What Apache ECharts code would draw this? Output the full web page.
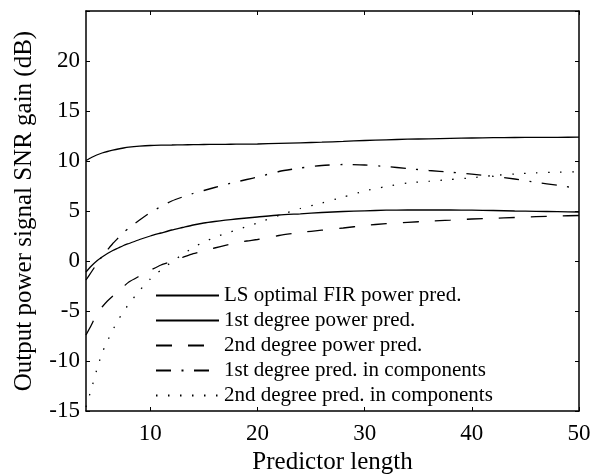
<!DOCTYPE html>
<html>
<head>
<meta charset="utf-8">
<script src="https://cdn.jsdelivr.net/npm/echarts@6/dist/echarts.min.js"></script>
<style>
html, body { margin: 0; padding: 0; background: #fff; }
#chart { width: 601px; height: 474px; }
</style>
</head>
<body>
<div id="chart"></div>
<script>
// predictor lengths sampled along the x axis
const predictorLength = [4, 4.5, 5, 5.5, 6, 6.5, 7, 7.5, 8, 9, 10, 11, 12, 13, 14, 15, 16, 17, 18, 19, 20,
  22, 24, 26, 28, 30, 32, 34, 36, 38, 40, 42, 44, 46, 48, 50]

// SNR gain (dB)
const lsOptimal = [10.05, 10.35, 10.6, 10.8, 10.95, 11.08, 11.2, 11.3, 11.38, 11.48, 11.55, 11.58, 11.6, 11.62, 11.63, 11.65, 11.66, 11.67, 11.68, 11.69, 11.7,
  11.76, 11.82, 11.88, 11.96, 12.05, 12.12, 12.18, 12.22, 12.26, 12.3, 12.33, 12.35, 12.36, 12.37, 12.38]
const firstPower = [-1.1, -0.5, 0, 0.4, 0.75, 1.05, 1.3, 1.55, 1.75, 2.15, 2.5, 2.8, 3.1, 3.35, 3.6, 3.8, 3.95, 4.08, 4.2, 4.3, 4.4,
  4.6, 4.72, 4.85, 4.95, 5.02, 5.08, 5.1, 5.1, 5.1, 5.08, 5.05, 5.0, 4.97, 4.93, 4.9]
const secondPower = [-7.4, -6.4, -5.3, -4.6, -4.0, -3.5, -3.0, -2.55, -2.1, -1.5, -0.93, -0.4, -0.05, 0.35, 0.74, 1.0, 1.3, 1.57, 1.8, 2.0, 2.15,
  2.55, 2.85, 3.08, 3.3, 3.55, 3.74, 3.87, 3.98, 4.08, 4.2, 4.27, 4.35, 4.44, 4.5, 4.55]
const firstComp = [-1.9, -1.1, -0.3, 0.45, 1.1, 1.75, 2.3, 2.85, 3.3, 4.1, 4.85, 5.45, 6.0, 6.4, 6.75, 7.05, 7.35, 7.65, 7.9, 8.15, 8.4,
  8.95, 9.3, 9.55, 9.65, 9.6, 9.45, 9.25, 9.05, 8.88, 8.68, 8.47, 8.2, 7.87, 7.57, 7.25]
const secondComp = [-14.6, -12.8, -10.9, -9.2, -8.0, -6.9, -5.9, -5.05, -4.3, -2.95, -1.8, -0.9, -0.1, 0.65, 1.35, 1.9, 2.35, 2.75, 3.1, 3.45, 3.8,
  4.55, 5.25, 5.8, 6.4, 7.0, 7.45, 7.8, 7.97, 8.15, 8.32, 8.55, 8.7, 8.82, 8.88, 8.92]

const seriesNames = ['LS optimal FIR power pred.', '1st degree power pred.', '2nd degree power pred.',
  '1st degree pred. in components', '2nd degree pred. in components']
const xTicks = [10, 20, 30, 40, 50]

const FONT = 'Liberation Serif'

function pairs (ys) {
  return predictorLength.map((x, i) => [x, ys[i]])
}

function lineSeries (name, ys, type) {
  return {
    name: name,
    type: 'line',
    data: pairs(ys),
    symbol: 'none',
    smooth: 0.2,
    lineStyle: { color: '#000', width: 1.3, type: type },
    // 图例里不要圆点
    itemStyle: { color: 'rgba(0,0,0,0)', borderWidth: 0 }
  }
}

const chart = echarts.init(document.getElementById('chart'))
const xBase = {
  type: 'value',
  min: 4,
  max: 50,
  splitLine: { show: false },
  axisLine: { onZero: false, lineStyle: { color: '#000', width: 1.5 } },
  axisTick: { inside: true, length: 4, customValues: xTicks, lineStyle: { color: '#000' } }
}
const yBase = {
  type: 'value',
  min: -15,
  max: 25,
  interval: 5,
  splitLine: { show: false },
  axisLine: { onZero: false, lineStyle: { color: '#000', width: 1.5 } },
  axisTick: { inside: true, length: 4, lineStyle: { color: '#000' } }
}

const option = {
  animation: false,
  backgroundColor: '#fff',
  grid: { left: 86, right: 22, top: 11, bottom: 63, containLabel: false, outerBoundsMode: 'none' },
  legend: {
    orient: 'vertical',
    left: 150,
    top: 278,
    itemWidth: 63,
    itemHeight: 14,
    itemGap: 0,
    itemStyle: { opacity: 0 },
    textStyle: { fontFamily: FONT, fontSize: 21, color: '#000', lineHeight: 25 },
    data: seriesNames
  },
  xAxis: [
    Object.assign({}, xBase, {
      position: 'bottom',
      name: 'Predictor length',
      nameLocation: 'middle',
      nameGap: 22,
      nameTextStyle: { fontFamily: FONT, fontSize: 25, color: '#000' },
      axisLabel: { customValues: xTicks, fontFamily: FONT, fontSize: 23, color: '#000', margin: 11 }
    }),
    Object.assign({}, xBase, { position: 'top', axisLabel: { show: false } })
  ],
  yAxis: [
    Object.assign({}, yBase, {
      position: 'left',
      name: 'Output power signal SNR gain (dB)',
      nameLocation: 'middle',
      nameGap: 49,
      nameTextStyle: { fontFamily: FONT, fontSize: 25, color: '#000' },
      axisLabel: {
        fontFamily: FONT,
        fontSize: 23,
        color: '#000',
        margin: 6,
        formatter: (v) => v === 25 ? '' : String(v)
      }
    }),
    Object.assign({}, yBase, { position: 'right', axisLabel: { show: false } })
  ],
  series: [
    lineSeries(seriesNames[0], lsOptimal, 'solid'),
    lineSeries(seriesNames[1], firstPower, 'solid'),
    lineSeries(seriesNames[2], secondPower, [16, 16]),
    lineSeries(seriesNames[3], firstComp, [15, 10.5, 2, 10.5]),
    lineSeries(seriesNames[4], secondComp, [1.5, 10.5])
  ]
}
chart.setOption(option)
</script>
</body>
</html>
